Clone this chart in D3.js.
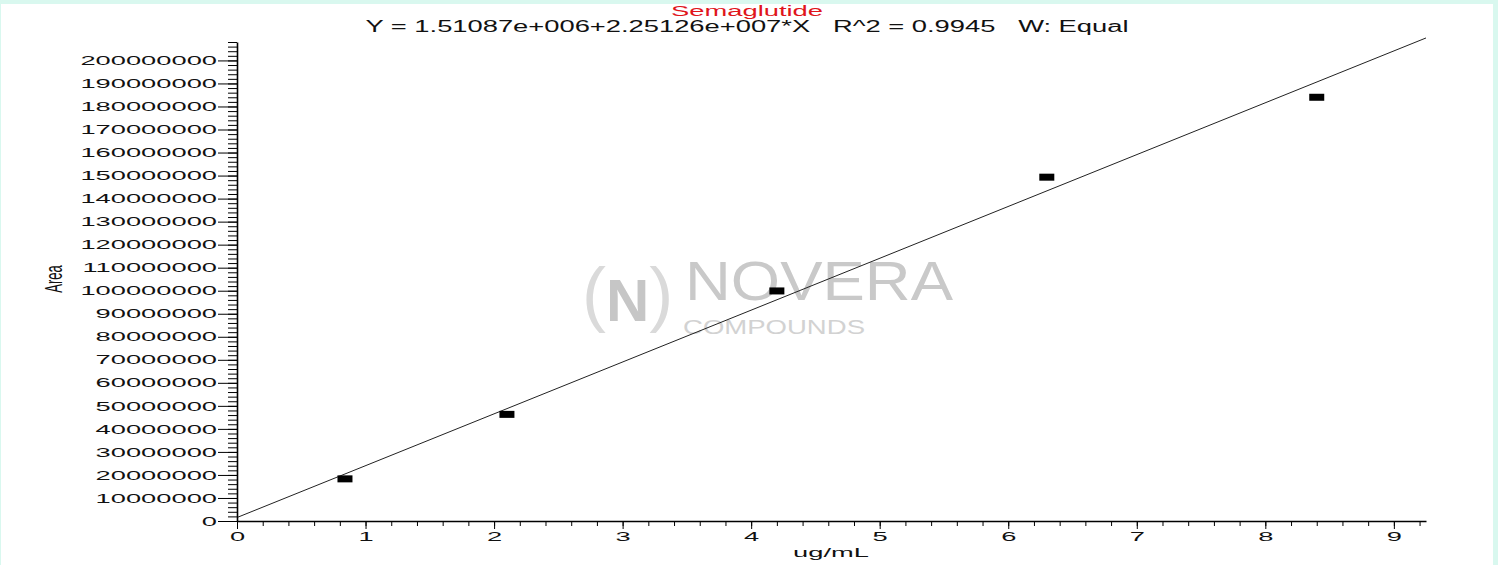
<!DOCTYPE html>
<html>
<head>
<meta charset="utf-8">
<script src="https://cdn.jsdelivr.net/npm/d3@7"></script>
<style>
  html, body { margin: 0; padding: 0; background: #d9f8ef; overflow: hidden; }
  svg { display: block; font-family: "Liberation Sans", Arial, sans-serif; }
</style>
</head>
<body>
<div id="chart"></div>
<script>
// データ
const title = "Semaglutide";
const equation = "Y = 1.51087e+006+2.25126e+007*X   R^2 = 0.9945   W: Equal";
const concentrations = [0.84, 2.1, 4.2, 6.3, 8.4];   // ug/mL
const areas = [18300000, 46300000, 99900000, 149300000, 184000000];
const fitIntercept = 1.51087e6;
const fitSlope = 2.25126e7;
const xTicks = [0, 1, 2, 3, 4, 5, 6, 7, 8, 9];
const yTicks = [0, 10000000, 20000000, 30000000, 40000000, 50000000, 60000000,
  70000000, 80000000, 90000000, 100000000, 110000000, 120000000, 130000000,
  140000000, 150000000, 160000000, 170000000, 180000000, 190000000, 200000000];
const xLabel = "ug/mL";
const yLabel = "Area";

// レイアウト
const W = 1498, H = 565;
const plot = {left: 237, right: 1426, top: 42, bottom: 521};
const stretch = 2.1; // 元画像は横に引き伸ばされている

const svg = d3.select("#chart").append("svg")
  .attr("width", W)
  .attr("height", H);

svg.append("rect")
  .attr("x", 1).attr("y", 4)
  .attr("width", 1492).attr("height", H - 4)
  .attr("fill", "#fff");

const x = d3.scaleLinear().domain([0, 9.25]).range([plot.left, plot.right]);
const y = d3.scaleLinear().domain([0, 208000000]).range([plot.bottom, plot.top]);

// ウォーターマーク
const wm = svg.append("g").attr("class", "watermark");
const logo = wm.append("text")
  .attr("x", 582).attr("y", 318)
  .attr("font-size", 72)
  .attr("fill", "#dadada");
logo.append("tspan").text("(");
logo.append("tspan")
  .attr("dy", 3)
  .attr("font-size", 60)
  .attr("font-weight", "bold")
  .attr("fill", "#c6c6c6")
  .text("N");
logo.append("tspan")
  .attr("dy", -3)
  .text(")");

wm.append("text")
  .attr("x", 685).attr("y", 300)
  .attr("font-size", 56)
  .attr("fill", "#c9c9c9")
  .attr("textLength", 268)
  .attr("lengthAdjust", "spacingAndGlyphs")
  .text("NOVERA");

wm.append("text")
  .attr("x", 683).attr("y", 334)
  .attr("font-size", 21)
  .attr("fill", "#d2d2d2")
  .attr("textLength", 182)
  .attr("lengthAdjust", "spacingAndGlyphs")
  .text("COMPOUNDS");

// 回帰直線
const fitX = x.domain();
svg.append("line")
  .attr("x1", x(fitX[0])).attr("y1", y(fitIntercept + fitSlope * fitX[0]))
  .attr("x2", x(fitX[1])).attr("y2", y(fitIntercept + fitSlope * fitX[1]))
  .attr("stroke", "#222")
  .attr("stroke-width", 1);

// データ点
svg.selectAll(".pt")
  .data(concentrations.map((c, i) => ({c, a: areas[i]})))
  .enter()
  .append("rect")
  .attr("class", "pt")
  .attr("x", d => x(d.c) - 7.5)
  .attr("y", d => y(d.a) - 3.5)
  .attr("width", 15)
  .attr("height", 7)
  .attr("fill", "#000");

// Y軸 (副目盛り)
svg.append("g")
  .attr("transform", `translate(${plot.left},0)`)
  .call(d3.axisLeft(y)
    .tickValues(d3.range(0, 105).map(i => i * 2000000))
    .tickSize(9).tickSizeOuter(0).tickFormat(""))
  .call(g => g.select(".domain").remove());

// Y軸 (主目盛り)
const yAxisG = svg.append("g")
  .attr("transform", `translate(${plot.left},0)`)
  .call(d3.axisLeft(y)
    .tickValues(yTicks)
    .tickSize(19).tickSizeOuter(0)
    .tickFormat(d3.format("d")));
yAxisG.select(".domain").attr("stroke-width", 1.6);
yAxisG.selectAll("text")
  .attr("x", 0)
  .attr("font-size", 13)
  .attr("font-family", "'Liberation Sans', Arial, sans-serif")
  .attr("fill", "#111")
  .attr("transform", `translate(-20,0) scale(${stretch},1)`);

// X軸 (副目盛り)
svg.append("g")
  .attr("transform", `translate(0,${plot.bottom})`)
  .call(d3.axisBottom(x)
    .tickValues(d3.range(0, 47).map(i => i / 5))
    .tickSize(5).tickSizeOuter(0).tickFormat(""))
  .call(g => g.select(".domain").remove());

// X軸 (主目盛り)
const xAxisG = svg.append("g")
  .attr("transform", `translate(0,${plot.bottom})`)
  .call(d3.axisBottom(x)
    .tickValues(xTicks)
    .tickSize(8).tickSizeOuter(0)
    .tickFormat(d3.format("d")));
xAxisG.select(".domain").attr("stroke-width", 1.3);
xAxisG.selectAll("text")
  .attr("y", 11)
  .attr("font-size", 13)
  .attr("font-family", "'Liberation Sans', Arial, sans-serif")
  .attr("fill", "#111")
  .attr("transform", `scale(${stretch},1)`);

// 軸ラベル
svg.append("text")
  .attr("transform", `translate(831,557) scale(${stretch},1)`)
  .attr("text-anchor", "middle")
  .attr("font-size", 13)
  .attr("fill", "#111")
  .text(xLabel);

svg.append("text")
  .attr("transform", `translate(62,279) scale(1.9,1) rotate(-90)`)
  .attr("text-anchor", "middle")
  .attr("font-size", 13)
  .attr("fill", "#111")
  .text(yLabel);

// タイトル
svg.append("text")
  .attr("x", 747).attr("y", 16)
  .attr("text-anchor", "middle")
  .attr("font-size", 14)
  .attr("fill", "#e0151b")
  .attr("textLength", 152)
  .attr("lengthAdjust", "spacingAndGlyphs")
  .text(title);

svg.append("text")
  .attr("x", 747).attr("y", 32)
  .attr("text-anchor", "middle")
  .attr("font-size", 16)
  .attr("fill", "#111")
  .style("white-space", "pre")
  .attr("textLength", 763)
  .attr("lengthAdjust", "spacingAndGlyphs")
  .text(equation);
</script>
</body>
</html>
